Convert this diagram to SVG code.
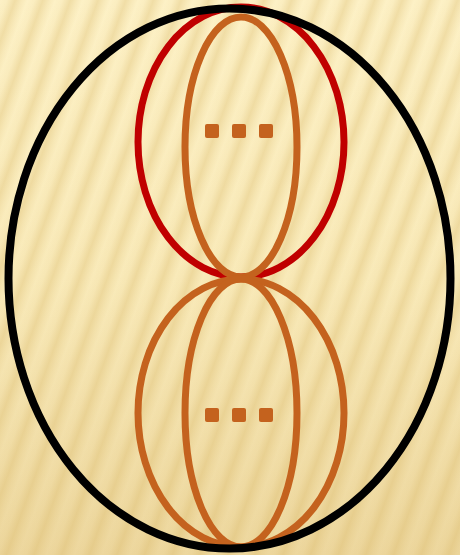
<svg xmlns="http://www.w3.org/2000/svg" width="460" height="555" viewBox="0 0 460 555">
  <defs>
    <linearGradient id="bg" x1="0" y1="0" x2="0" y2="1">
      <stop offset="0" stop-color="#FDF1C6"/>
      <stop offset="0.5" stop-color="#F9EAB9"/>
      <stop offset="1" stop-color="#EDD79E"/>
    </linearGradient>
    <linearGradient id="stripes" gradientUnits="userSpaceOnUse" x1="0" y1="0" x2="24.4" y2="8.9" spreadMethod="repeat">
      <stop offset="0" stop-color="#D6B462" stop-opacity="0"/>
      <stop offset="0.25" stop-color="#D6B462" stop-opacity="0.06"/>
      <stop offset="0.55" stop-color="#D6B462" stop-opacity="0.32"/>
      <stop offset="0.8" stop-color="#D6B462" stop-opacity="0.12"/>
      <stop offset="1" stop-color="#D6B462" stop-opacity="0"/>
    </linearGradient>
    <style>
      .outer { fill: none; stroke: #000000; stroke-width: 8; }
      .red { fill: none; stroke: #C00000; stroke-width: 7; }
      .orange { fill: none; stroke: #C4621E; stroke-width: 7; }
      .dot { fill: #C4621E; }
    </style>
  </defs>
  <rect width="460" height="555" fill="url(#bg)"/>
  <rect width="460" height="555" fill="url(#stripes)"/>
  <g id="connectors"/>
  <g id="top-loops">
    <ellipse class="red" cx="241" cy="142" rx="103" ry="135"/>
    <ellipse class="orange" cx="241" cy="147" rx="56" ry="130"/>
    <rect class="dot" x="205" y="124" width="14" height="14" rx="2"/>
    <rect class="dot" x="232" y="124" width="14" height="14" rx="2"/>
    <rect class="dot" x="259" y="124" width="14" height="14" rx="2"/>
  </g>
  <g id="bottom-loops">
    <ellipse class="orange" cx="241" cy="413" rx="103" ry="134"/>
    <ellipse class="orange" cx="241" cy="413" rx="56" ry="134"/>
    <rect class="dot" x="205" y="408" width="14" height="14" rx="2"/>
    <rect class="dot" x="232" y="408" width="14" height="14" rx="2"/>
    <rect class="dot" x="259" y="408" width="14" height="14" rx="2"/>
  </g>
  <g id="outer">
    <ellipse class="outer" cx="229.5" cy="278.5" rx="221" ry="270"/>
  </g>
</svg>
